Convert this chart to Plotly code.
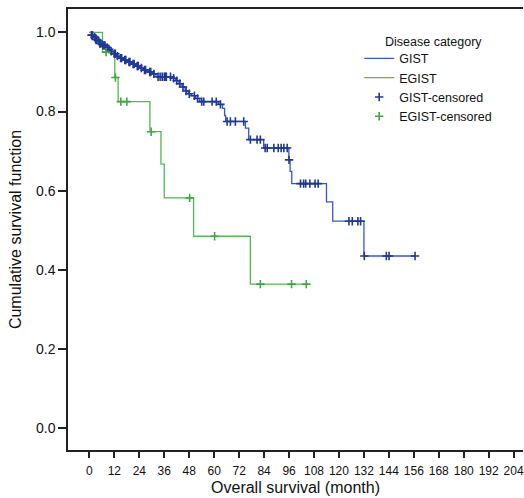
import plotly.graph_objects as go

# ---- Data ----
# GIST Kaplan-Meier steps: event time (month) and survival after the event
gist_event_t = [0, 1, 2, 3, 4, 5, 6, 8, 9, 10, 11, 13, 14, 16, 18, 20, 22, 24, 26, 28, 30, 32,
                40, 41.5, 43, 44.5, 46, 47.5, 49, 51, 53, 62, 64, 65, 65.5, 75, 76.6, 83.8,
                95.9, 96.5, 97.3, 114, 117, 132]
gist_event_s = [1.0, 0.993, 0.988, 0.982, 0.978, 0.972, 0.967, 0.962, 0.957, 0.952, 0.946, 0.940,
                0.935, 0.930, 0.925, 0.920, 0.915, 0.910, 0.905, 0.900, 0.895, 0.888,
                0.884, 0.878, 0.870, 0.862, 0.852, 0.845, 0.840, 0.833, 0.825, 0.818, 0.808,
                0.790, 0.775, 0.758, 0.729, 0.708, 0.678, 0.649, 0.618, 0.572, 0.523, 0.435]
gist_end_t = 156.6
gist_censor_t = [1, 1.5, 2.5, 3, 3.5, 4.5, 5, 5.5, 6.5, 7, 7.5, 8.5, 9.5, 10.5, 12, 12.5, 13.5,
                 15, 15.5, 17, 17.5, 19, 19.5, 21, 21.5, 23, 23.5, 25, 26.5, 27, 29, 29.5, 31,
                 33, 34, 35, 36, 36.5, 37, 39, 40.5, 42, 43.5, 45, 46.5, 48, 50.5, 52, 54, 55,
                 59, 61, 63, 66.2, 67.8, 70.2, 74.2, 77.4, 80.6, 82.2, 84.5, 85.5, 88.7, 90.8,
                 92.2, 93.5, 95.1, 96.0, 101.5, 103, 104, 106, 108.5, 110, 124.8, 126.4, 129.1,
                 130.4, 132.2, 142.8, 144.1, 156.6]

# EGIST Kaplan-Meier steps
egist_event_t = [0, 6.3, 12.2, 13.8, 29.1, 34.4, 36.0, 50.1, 77.4]
egist_event_s = [1.0, 0.950, 0.886, 0.825, 0.749, 0.667, 0.582, 0.485, 0.364]
egist_end_t = 104.3
egist_censor_t = [8, 12.5, 15.1, 18, 29.7, 48.2, 60.2, 82.2, 97.2, 104.3]

x_ticks = [0, 12, 24, 36, 48, 60, 72, 84, 96, 108, 120, 132, 144, 156, 168, 180, 192, 204]
y_ticks = [0.0, 0.2, 0.4, 0.6, 0.8, 1.0]
y_tick_labels = ["0.0", "0.2", "0.4", "0.6", "0.8", "1.0"]


def surv_at(t, ev_t, ev_s):
    s = ev_s[0]
    for tt, ss in zip(ev_t, ev_s):
        if tt <= t:
            s = ss
    return s


GIST_LINE = "#3558c8"
GIST_MARK = "#1f3894"
EGIST_LINE = "#55b855"
EGIST_MARK = "#3fa83f"

fig = go.Figure()

fig.add_trace(go.Scatter(
    x=gist_event_t + [gist_end_t], y=gist_event_s + [gist_event_s[-1]],
    mode="lines", line=dict(shape="hv", color=GIST_LINE, width=1.3), name="GIST"))
fig.add_trace(go.Scatter(
    x=egist_event_t + [egist_end_t], y=egist_event_s + [egist_event_s[-1]],
    mode="lines", line=dict(shape="hv", color=EGIST_LINE, width=1.3), name="EGIST"))
fig.add_trace(go.Scatter(
    x=gist_censor_t, y=[surv_at(t, gist_event_t, gist_event_s) for t in gist_censor_t],
    mode="markers", name="GIST-censored",
    marker=dict(symbol="cross-thin", size=6, color=GIST_MARK, line=dict(color=GIST_MARK, width=1.6))))
fig.add_trace(go.Scatter(
    x=egist_censor_t, y=[surv_at(t, egist_event_t, egist_event_s) for t in egist_censor_t],
    mode="markers", name="EGIST-censored",
    marker=dict(symbol="cross-thin", size=6, color=EGIST_MARK, line=dict(color=EGIST_MARK, width=1.6))))

fig.add_annotation(text="Disease category", xref="paper", yref="paper", x=0.692, y=0.905,
                   xanchor="left", yanchor="bottom", showarrow=False,
                   font=dict(family="Liberation Sans, Arial, sans-serif", size=12.5, color="#111"))

fig.update_layout(
    width=524, height=498,
    margin=dict(l=68, r=1, t=9, b=48),
    plot_bgcolor="white", paper_bgcolor="white",
    font=dict(family="Liberation Sans, Arial, sans-serif", color="#111"),
    showlegend=True,
    legend=dict(x=0.640, y=0.921, xanchor="left", yanchor="top", bgcolor="rgba(0,0,0,0)",
                font=dict(size=12.5, color="#111"), itemwidth=30, tracegroupgap=0),
    xaxis=dict(range=[-10.3, 208.5], tickvals=x_ticks, ticktext=[str(v) for v in x_ticks],
               ticks="outside", ticklen=6, tickwidth=1.5, tickcolor="#222",
               showline=True, linecolor="#222", linewidth=1.5, mirror=True,
               showgrid=False, zeroline=False, automargin=False,
               ticklabeloverflow="allow", ticklabelstandoff=3,
               tickfont=dict(family="Liberation Sans Narrow, Liberation Sans, sans-serif", size=12),
               title=dict(text="Overall survival (month)", standoff=5,
                          font=dict(size=16))),
    yaxis=dict(range=[-0.055, 1.059], tickvals=y_ticks, ticktext=y_tick_labels,
               ticks="outside", ticklen=8, tickwidth=1.5, tickcolor="#222",
               showline=True, linecolor="#222", linewidth=1.5, mirror=False,
               showgrid=False, zeroline=False, automargin=False,
               tickfont=dict(size=14),
               title=dict(text="Cumulative survival function", standoff=10,
                          font=dict(size=16))),
)

# remove the page's default body margin so the 524x498 figure fills the window exactly
fig.write_html("out.html", config={"displayModeBar": False},
               post_script="document.body.style.margin='0';document.body.style.overflow='hidden';")
